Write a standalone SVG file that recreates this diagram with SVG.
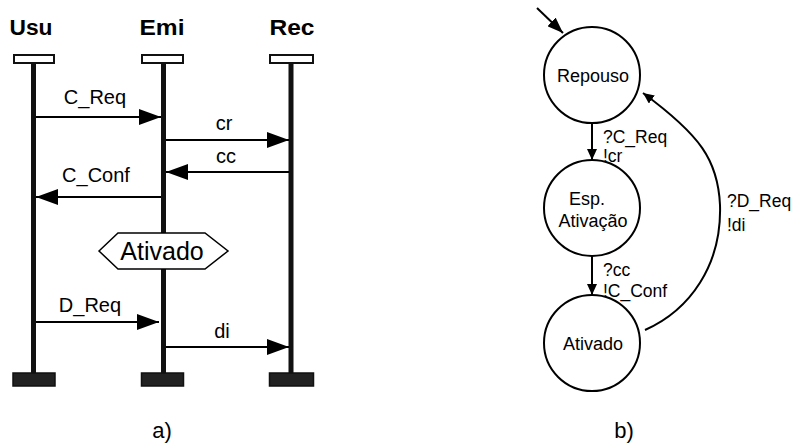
<svg xmlns="http://www.w3.org/2000/svg" width="793" height="445" viewBox="0 0 793 445">
<style>
.hd{font-family:"Liberation Sans",Arial,sans-serif;font-weight:bold;font-size:22px;fill:#000;text-anchor:middle}
.lb{font-family:"Liberation Sans",Arial,sans-serif;font-size:20px;fill:#000;text-anchor:middle}
.st{font-family:"Liberation Sans",Arial,sans-serif;font-size:18px;fill:#000;text-anchor:middle}
.tr{font-family:"Liberation Sans",Arial,sans-serif;font-size:17.5px;fill:#000}
.cap{font-family:"Liberation Sans",Arial,sans-serif;font-size:22px;fill:#000;text-anchor:middle}
.life{stroke:#111;stroke-width:5}
.topbox{fill:#fff;stroke:#111;stroke-width:2}
.botbox{fill:#222;stroke:#111;stroke-width:1.5}
.msg{stroke:#000;stroke-width:2;fill:none;marker-end:url(#ah)}
.state{fill:#fff;stroke:#000;stroke-width:2}
.tra{stroke:#000;stroke-width:2;fill:none;marker-end:url(#sh)}
</style>
<defs>
<marker id="ah" markerUnits="userSpaceOnUse" markerWidth="22" markerHeight="16" viewBox="0 0 22 16" refX="22" refY="8" orient="auto"><path d="M0,0 L22,8 L0,16 z" fill="#000"/></marker>
<marker id="sh" markerUnits="userSpaceOnUse" markerWidth="11" markerHeight="10" viewBox="0 0 11 10" refX="11" refY="5" orient="auto"><path d="M0,0 L11,5 L0,10 z" fill="#000"/></marker>
<marker id="ih" markerUnits="userSpaceOnUse" markerWidth="16" markerHeight="12" viewBox="0 0 16 12" refX="16" refY="6" orient="auto"><path d="M0,0 L16,6 L0,12 z" fill="#000"/></marker>
</defs>

<!-- a) sequence diagram -->
<g id="usu">
<text class="hd" x="31" y="35" textLength="43" lengthAdjust="spacingAndGlyphs">Usu</text>
<line class="life" x1="33.5" y1="63" x2="33.5" y2="373"/>
<rect class="topbox" x="14" y="55" width="40" height="8"/>
<rect class="botbox" x="13" y="373" width="42" height="13"/>
</g>
<g id="emi">
<text class="hd" x="162" y="35" textLength="45" lengthAdjust="spacingAndGlyphs">Emi</text>
<line class="life" x1="163.5" y1="63" x2="163.5" y2="373"/>
<rect class="topbox" x="142" y="55" width="41" height="8"/>
<rect class="botbox" x="141.5" y="373" width="42" height="13"/>
</g>
<g id="rec">
<text class="hd" x="292" y="35" textLength="45" lengthAdjust="spacingAndGlyphs">Rec</text>
<line class="life" x1="291" y1="63" x2="291" y2="373"/>
<rect class="topbox" x="270" y="55" width="43" height="8"/>
<rect class="botbox" x="269.5" y="373" width="44" height="13"/>
</g>
<g id="ativado-cond">
<polygon points="99,251 118,233 205,233 228,251 205,269 118,269" fill="#fff" stroke="#000" stroke-width="1.5"/>
<text class="lb" x="162" y="260" style="font-size:25px">Ativado</text>
</g>

<g id="messages">
<line class="msg" x1="36" y1="117" x2="161" y2="117"/>
<text class="lb" x="95" y="104">C_Req</text>
<line class="msg" x1="166" y1="140" x2="289" y2="140"/>
<text class="lb" x="224" y="130">cr</text>
<line class="msg" x1="289" y1="172" x2="166" y2="172"/>
<text class="lb" x="226" y="163">cc</text>
<line class="msg" x1="161" y1="197" x2="36" y2="197"/>
<text class="lb" x="96" y="182">C_Conf</text>
<line class="msg" x1="36" y1="322" x2="159" y2="322"/>
<text class="lb" x="90" y="312">D_Req</text>
<line class="msg" x1="166" y1="347" x2="289" y2="347"/>
<text class="lb" x="222" y="338">di</text>
</g>

<text class="cap" x="162" y="438">a)</text>

<!-- b) state machine -->
<g id="repouso">
<circle class="state" cx="592" cy="75" r="48"/>
<text class="st" x="593" y="82">Repouso</text>
</g>
<g id="esp-ativacao">
<circle class="state" cx="592" cy="208" r="48"/>
<text class="st" x="587" y="205">Esp.</text>
<text class="st" x="593" y="227">Ativação</text>
</g>
<g id="ativado">
<circle class="state" cx="592" cy="343" r="48"/>
<text class="st" x="593" y="350">Ativado</text>
</g>

<g id="transitions">
<line stroke="#000" stroke-width="2" x1="537" y1="8" x2="563" y2="33" style="marker-end:url(#ih)"/>
<line class="tra" x1="592" y1="123" x2="592" y2="160"/>
<text class="tr" x="603" y="143">?C_Req</text>
<text class="tr" x="603" y="162">!cr</text>
<line class="tra" x1="592" y1="256" x2="592" y2="295"/>
<text class="tr" x="603" y="276">?cc</text>
<text class="tr" x="603" y="297">!C_Conf</text>
<path class="tra" d="M645,330 C690,310 722,265 720,205 C718,160 700,135 643,93"/>
<text class="tr" x="727" y="207">?D_Req</text>
<text class="tr" x="727" y="231">!di</text>
</g>

<text class="cap" x="624" y="438">b)</text>
</svg>
